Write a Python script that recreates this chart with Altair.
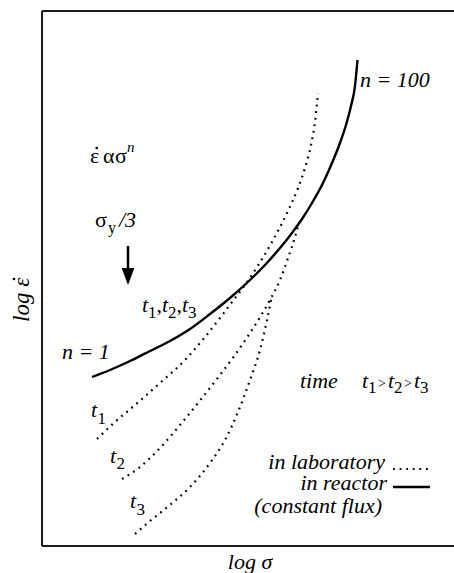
import altair as alt
import pandas as pd

FONT = "'Liberation Serif', 'Times New Roman', Times, 'DejaVu Serif', serif"

# Creep-rate curves: log sigma (x) against log strain rate (y), arbitrary log units
reactor_x = [50, 68, 88, 108, 128, 148, 168, 188, 208, 223, 238, 250, 260, 270, 280, 290, 298, 304, 309, 313, 315.5]
reactor_y = [169, 176, 185, 195, 205, 217, 232, 248, 266, 281, 298, 313, 327, 343, 361, 383, 403, 421, 440, 460, 486]

lab_t1_x = [55, 73, 93, 118, 143, 163, 178, 190, 203, 215, 230, 245, 256, 263, 269, 273, 276]
lab_t1_y = [107, 124, 141, 163, 186, 209, 228, 244, 261, 279, 304, 333, 358, 378, 401, 424, 453]

lab_t2_x = [80, 98, 118, 138, 160, 178, 193, 208, 220, 228, 238, 246, 253, 257]
lab_t2_y = [67, 79, 98, 121, 148, 171, 191, 213, 232, 246, 266, 288, 309, 324]

lab_t3_x = [93, 108, 128, 148, 168, 183, 196, 208, 218, 225, 229]
lab_t3_y = [12, 25, 41, 59, 83, 106, 134, 166, 196, 226, 246]

X_MAX, Y_MAX = 412, 535
xs = alt.Scale(domain=[0, X_MAX], nice=False, zero=False)
ys = alt.Scale(domain=[0, Y_MAX], nice=False, zero=False)

reactor = pd.DataFrame({"x": reactor_x, "y": reactor_y, "curve": "reactor"})
lab = pd.concat([
    pd.DataFrame({"x": lab_t1_x, "y": lab_t1_y, "curve": "t1"}),
    pd.DataFrame({"x": lab_t2_x, "y": lab_t2_y, "curve": "t2"}),
    pd.DataFrame({"x": lab_t3_x, "y": lab_t3_y, "curve": "t3"}),
])


def pos(xf="x", yf="y"):
    return dict(x=alt.X(f"{xf}:Q", scale=xs, axis=None), y=alt.Y(f"{yf}:Q", scale=ys, axis=None))


solid = alt.Chart(reactor).mark_line(
    color="black", strokeWidth=2.4, interpolate="monotone"
).encode(**pos(), detail="curve:N")

dotted = alt.Chart(lab).mark_line(
    color="black", strokeWidth=2.2, strokeDash=[1.8, 4.8], interpolate="monotone"
).encode(**pos(), detail="curve:N")

# Annotation layout: text, x, y, font size
italic_left = pd.DataFrame([
    ("n = 100", 318, 459, 22),
    ("n = 1", 20, 187, 22),
    ("time", 258, 158, 22),
    ("n", 85, 394, 15),
    ("/3", 77, 319, 22),
    # t1,t2,t3 label
    ("t", 100, 234, 22), ("t", 120, 234, 22), ("t", 140, 234, 22),
    # t1>t2>t3
    ("t", 320, 158, 22), ("t", 346, 158, 22), ("t", 372, 158, 22),
    # curve tags
    ("t", 49, 129, 22), ("t", 68, 83, 22), ("t", 88, 38, 22),
], columns=["text", "x", "y", "size"])

normal_left = pd.DataFrame([
    ("ε", 48, 383, 22),
    ("α", 61, 383, 22),
    ("σ", 73, 383, 22),
    ("σ", 53, 319, 22),
    ("y", 66, 313, 16),
    ("1", 106, 228, 17), (",", 114.5, 234, 22),
    ("2", 126, 228, 17), (",", 134.5, 234, 22),
    ("3", 146, 228, 17),
    ("1", 326, 153, 17), (">", 336, 158, 14),
    ("2", 352, 153, 17), (">", 362, 158, 14),
    ("3", 378, 153, 17),
    ("1", 55.5, 122, 17),
    ("2", 74.5, 77, 17),
    ("3", 94.5, 31, 17),
], columns=["text", "x", "y", "size"])

italic_right = pd.DataFrame([
    ("in laboratory", 343, 77, 22),
    ("in reactor", 345, 56, 22),
    ("(constant flux)", 340, 33, 22),
], columns=["text", "x", "y", "size"])

axis_x_title = pd.DataFrame([("log σ", 208, -23, 22)], columns=["text", "x", "y", "size"])
axis_y_title = pd.DataFrame([("log ε", -13, 224, 23)], columns=["text", "x", "y", "size"])

# Overdots for the strain-rate symbol
dots = pd.DataFrame({"x": [54.7, -28], "y": [398, 267]})


def text_layer(df, style, align, angle=0):
    return alt.Chart(df).mark_text(
        font=FONT, fontStyle=style, align=align, baseline="alphabetic",
        color="black", angle=angle,
    ).encode(**pos(), text="text:N",
             size=alt.Size("size:Q", scale=None, legend=None))


texts = [
    text_layer(italic_left, "italic", "left"),
    text_layer(normal_left, "normal", "left"),
    text_layer(italic_right, "italic", "right"),
    text_layer(axis_x_title, "italic", "center"),
    text_layer(axis_y_title, "italic", "left", angle=270),
]

dot_marks = alt.Chart(dots).mark_circle(color="black", opacity=1, size=7).encode(**pos())

# Legend samples next to the legend text
legend = pd.DataFrame({"x": [351, 351], "x2": [388, 388], "y": [77, 59], "kind": ["lab", "reactor"]})
legend_dotted = alt.Chart(legend[legend.kind == "lab"]).mark_rule(
    color="black", strokeWidth=2.2, strokeDash=[1.8, 4.8]
).encode(**pos(), x2="x2:Q")
legend_solid = alt.Chart(legend[legend.kind == "reactor"]).mark_rule(
    color="black", strokeWidth=2.4
).encode(**pos(), x2="x2:Q")

# Arrow marking sigma_y / 3
arrow = pd.DataFrame({"x": [86], "y": [300], "y2": [276], "yh": [269.5]})
arrow_stem = alt.Chart(arrow).mark_rule(color="black", strokeWidth=2.5).encode(**pos(), y2="y2:Q")
arrow_head = alt.Chart(arrow).mark_point(
    shape="M-0.75,-1L0.75,-1L0,1Z", filled=True, color="black", opacity=1, size=289
).encode(**pos("x", "yh"))

# Frame: left, top and bottom edges
frame_left = alt.Chart(reactor).mark_rule(color="#1a1a1a", strokeWidth=2).encode(
    x=alt.value(0), y=alt.value(0), y2=alt.value(Y_MAX))
frame_top = alt.Chart(reactor).mark_rule(color="#1a1a1a", strokeWidth=2).encode(
    x=alt.value(0), x2=alt.value(X_MAX), y=alt.value(0))
frame_bottom = alt.Chart(reactor).mark_rule(color="#1a1a1a", strokeWidth=2).encode(
    x=alt.value(0), x2=alt.value(X_MAX), y=alt.value(Y_MAX))

chart = alt.layer(
    frame_left, frame_top, frame_bottom,
    dotted, solid, legend_dotted, legend_solid, arrow_stem, arrow_head,
    *texts, dot_marks,
).properties(
    width=X_MAX, height=Y_MAX,
    autosize=alt.AutoSizeParams(type="none"),
    padding={"left": 42, "top": 11, "right": 0, "bottom": 27},
    background="white",
).configure_view(stroke=None)

chart.save("out.html", embed_options={"renderer": "svg", "actions": False})
